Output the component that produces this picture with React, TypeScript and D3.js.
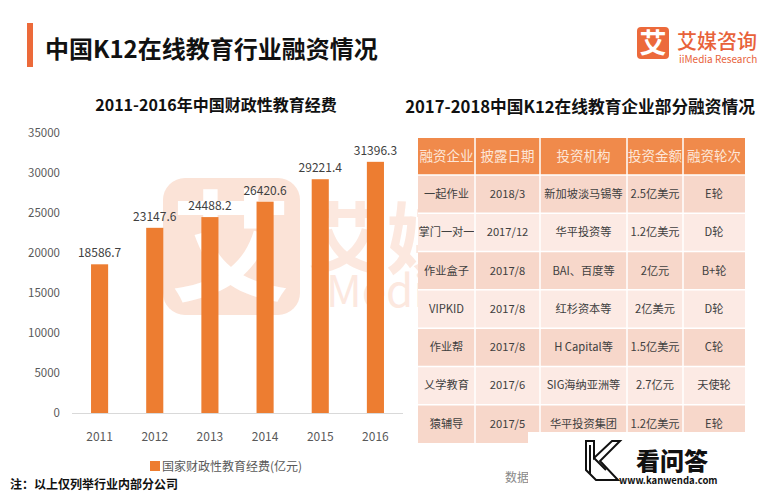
import React from "react";
import * as d3 from "d3";

const years = ["2011", "2012", "2013", "2014", "2015", "2016"];
const spending = [18586.7, 23147.6, 24488.2, 26420.6, 29221.4, 31396.3];
const yTicks = [0, 5000, 10000, 15000, 20000, 25000, 30000, 35000];

const tableHeader = ["融资企业", "披露日期", "投资机构", "投资金额", "融资轮次"];
const companies = ["一起作业", "掌门一对一", "作业盒子", "VIPKID", "作业帮", "乂学教育", "猿辅导"];
const dates = ["2018/3", "2017/12", "2017/8", "2017/8", "2017/8", "2017/6", "2017/5"];
const investors = ["新加坡淡马锡等", "华平投资等", "BAI、百度等", "红杉资本等", "H Capital等", "SIG海纳亚洲等", "华平投资集团"];
const amounts = ["2.5亿美元", "1.2亿美元", "2亿元", "2亿美元", "1.5亿美元", "2.7亿元", "1.2亿美元"];
const rounds = ["E轮", "D轮", "B+轮", "D轮", "C轮", "天使轮", "E轮"];

const FONT = "'Noto Sans CJK SC', 'Noto Sans', sans-serif";

export default function App() {
  const W = 770, H = 494;
  const x = d3.scaleBand<string>().domain(years).range([72, 403]).paddingInner(0.69).paddingOuter(0.345);
  const y = d3.scaleLinear().domain([0, 35000]).range([413, 133]);

  const colEdges = [418, 475, 540, 627, 683, 745];
  const rowScale = d3.scaleBand<number>().domain(d3.range(companies.length)).range([175, 443]);
  const rows = companies.map((c, i) => [c, dates[i], investors[i], amounts[i], rounds[i]]);

  return (
    <svg width={W} height={H} style={{ position: "fixed", left: 0, top: 0, fontFamily: FONT }}>
      <rect width={W} height={H} fill="#fff" />

      {/* background watermark */}
      <g>
        <rect x={163} y={178} width={137} height={137} rx={22} fill="#FBE3D7" />
        <text x={231} y={292} textAnchor="middle" fontSize={120} fontWeight={700} fill="#fff">艾</text>
        <text x={308} y={268} fontSize={78} fontWeight={700} fill="#FCE8DF">艾媒</text>
        <text x={326} y={307} fontSize={44} fill="#FCE8DF">Media</text>
      </g>

      {/* header */}
      <rect x={27} y={23} width={6} height={44} fill="#EC6A3A" />
      <text x={45} y={58} fontSize={24} fontWeight={700} fill="#111">中国K12在线教育行业融资情况</text>

      {/* logo */}
      <rect x={637} y={27} width={32} height={32} rx={4} fill="#EC6A3B" />
      <text x={653} y={53} textAnchor="middle" fontSize={27} fontWeight={700} fill="#fff">艾</text>
      <text x={677} y={49} fontSize={20} fontWeight={500} fill="#E8623A">艾媒咨询</text>
      <text x={679} y={63} fontSize={10} fill="#E8623A">iiMedia Research</text>

      {/* bar chart */}
      <text x={216} y={111} textAnchor="middle" fontSize={16} fontWeight={700} fill="#111">2011-2016年中国财政性教育经费</text>
      {yTicks.map((t) => (
        <text key={t} x={60} y={y(t)} dy="0.35em" textAnchor="end" fontSize={11.5} fill="#595959">{t}</text>
      ))}
      <line x1={72} x2={403} y1={413.5} y2={413.5} stroke="#D9D9D9" strokeWidth={1} />
      {years.map((yr, i) => (
        <g key={yr}>
          <rect x={x(yr)} y={y(spending[i])} width={x.bandwidth()} height={y(0) - y(spending[i])} fill="#ED7D31" />
          <text x={(x(yr) as number) + x.bandwidth() / 2} y={y(spending[i]) - 7} textAnchor="middle" fontSize={12} fill="#404040">{spending[i]}</text>
          <text x={(x(yr) as number) + x.bandwidth() / 2} y={437} dy="0.35em" textAnchor="middle" fontSize={12} fill="#595959">{yr}</text>
        </g>
      ))}
      <rect x={150} y={461} width={10} height={10} fill="#ED7D31" />
      <text x={162} y={470.5} fontSize={12} fill="#595959">国家财政性教育经费(亿元)</text>

      {/* table */}
      <text x={580} y={113} textAnchor="middle" fontSize={16.7} fontWeight={700} fill="#111">2017-2018中国K12在线教育企业部分融资情况</text>
      <rect x={colEdges[0]} y={138} width={colEdges[5] - colEdges[0]} height={37} fill="#F08A4B" />
      {tableHeader.map((h, j) => (
        <text key={h} x={(colEdges[j] + colEdges[j + 1]) / 2} y={156.5} dy="0.35em" textAnchor="middle" fontSize={13.5} fill="#FDE6D8">{h}</text>
      ))}
      {rows.map((r, i) => (
        <g key={i}>
          <rect x={colEdges[0]} y={rowScale(i)} width={colEdges[5] - colEdges[0]} height={rowScale.bandwidth()} fill={i % 2 === 0 ? "#F7D7CA" : "#FCEAE4"} />
          {r.map((v, j) => (
            <text key={j} x={(colEdges[j] + colEdges[j + 1]) / 2} y={(rowScale(i) as number) + rowScale.bandwidth() / 2} dy="0.35em" textAnchor="middle" fontSize={11.2} fill="#404040">{v}</text>
          ))}
        </g>
      ))}
      {rows.map((_, i) => i > 0 ? (
        <line key={"h" + i} x1={colEdges[0]} x2={colEdges[5]} y1={rowScale(i)} y2={rowScale(i)} stroke="#fff" strokeWidth={1.5} />
      ) : null)}
      <line x1={colEdges[0]} x2={colEdges[5]} y1={175} y2={175} stroke="#fff" strokeWidth={1.5} />
      {colEdges.slice(1, 5).map((cx) => (
        <line key={cx} x1={cx} x2={cx} y1={138} y2={443} stroke="#fff" strokeWidth={1.5} />
      ))}

      {/* footer */}
      <text x={10} y={489} fontSize={12} fontWeight={700} fill="#111">注：以上仅列举行业内部分公司</text>
      <text x={505} y={482} fontSize={12} fill="#888">数据</text>

      {/* kanwenda overlay */}
      <rect x={528} y={432} width={242} height={62} fill="#fff" />
      <g fill="none" stroke="#111" strokeWidth={2} strokeLinejoin="miter">
        <path d="M586,441 L594,441 L594,458 L612,441 L620,441 L600,461 L618,480 L596,480 L586,470 Z" />
        <path d="M590,445 L590,474 M594,458 L606,470" />
      </g>
      <text x={636} y={470} fontSize={24} fontWeight={900} fill="#111">看问答</text>
      <text x={619} y={484} fontSize={9.5} fontWeight={700} fill="#111">www.kanwenda.com</text>
    </svg>
  );
}
